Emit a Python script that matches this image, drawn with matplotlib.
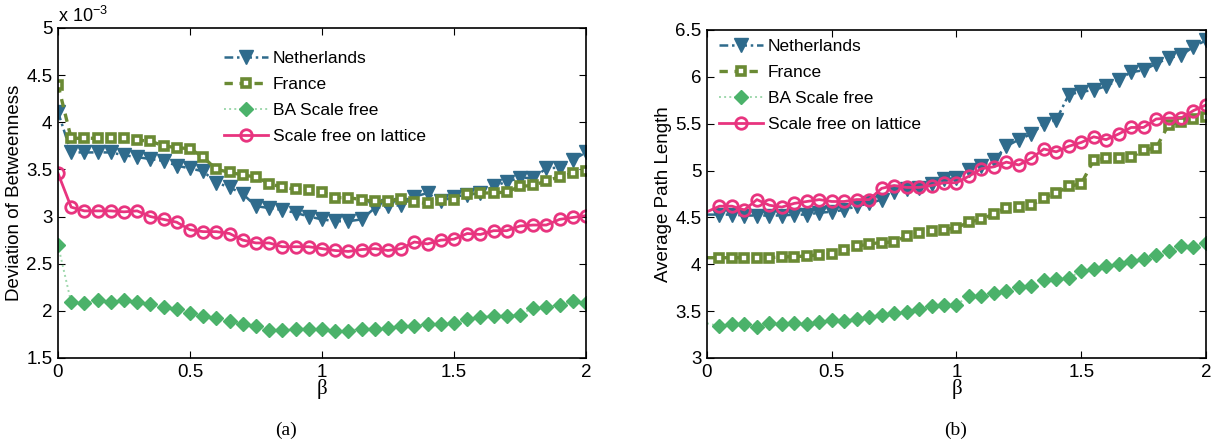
import numpy as np
import matplotlib
matplotlib.use("Agg")
import matplotlib.pyplot as plt

plt.rcParams["font.family"] = ["Liberation Sans", "DejaVu Sans"]
plt.rcParams["mathtext.default"] = "regular"

# beta 取值 0 ~ 2, 步长 0.05
beta = np.round(np.arange(0, 2.0001, 0.05), 2)

# (a) Deviation of Betweenness, 单位 1e-3
dev_netherlands = [4.11, 3.68, 3.68, 3.68, 3.68, 3.65, 3.63, 3.61, 3.59, 3.54, 3.51,
                   3.48, 3.36, 3.31, 3.24, 3.11, 3.09, 3.07, 3.04, 3.00, 2.97,
                   2.95, 2.95, 2.97, 3.09, 3.11, 3.12, 3.21, 3.25, 3.16, 3.21,
                   3.23, 3.25, 3.32, 3.37, 3.41, 3.41, 3.51, 3.52, 3.60, 3.68]
dev_france = [4.40, 3.83, 3.83, 3.83, 3.83, 3.83, 3.81, 3.80, 3.75, 3.73, 3.72,
              3.63, 3.50, 3.47, 3.44, 3.42, 3.35, 3.31, 3.29, 3.28, 3.26,
              3.20, 3.20, 3.18, 3.16, 3.16, 3.19, 3.15, 3.14, 3.18, 3.18,
              3.24, 3.25, 3.25, 3.26, 3.32, 3.33, 3.38, 3.42, 3.46, 3.48]
dev_ba = [2.70, 2.09, 2.08, 2.11, 2.09, 2.12, 2.09, 2.07, 2.04, 2.02, 1.98,
          1.95, 1.92, 1.89, 1.86, 1.84, 1.80, 1.80, 1.81, 1.81, 1.81,
          1.79, 1.79, 1.81, 1.81, 1.82, 1.84, 1.84, 1.86, 1.86, 1.87,
          1.91, 1.93, 1.95, 1.95, 1.96, 2.03, 2.04, 2.06, 2.10, 2.08]
dev_lattice = [3.46, 3.10, 3.06, 3.06, 3.06, 3.05, 3.06, 3.00, 2.97, 2.94, 2.86,
               2.84, 2.84, 2.82, 2.75, 2.72, 2.72, 2.68, 2.68, 2.68, 2.66,
               2.64, 2.63, 2.65, 2.66, 2.64, 2.66, 2.73, 2.71, 2.75, 2.76,
               2.82, 2.81, 2.85, 2.85, 2.90, 2.91, 2.91, 2.97, 2.99, 3.01]

# (b) Average Path Length
apl_netherlands = [4.53, 4.53, 4.53, 4.52, 4.52, 4.52, 4.52, 4.53, 4.53, 4.55, 4.56,
                   4.58, 4.62, 4.65, 4.69, 4.77, 4.80, 4.81, 4.86, 4.91, 4.92,
                   5.01, 5.05, 5.11, 5.26, 5.33, 5.39, 5.50, 5.54, 5.81, 5.84,
                   5.86, 5.90, 5.97, 6.05, 6.07, 6.14, 6.20, 6.23, 6.32, 6.39]
apl_france = [4.07, 4.07, 4.07, 4.07, 4.07, 4.07, 4.08, 4.08, 4.09, 4.10, 4.11,
              4.15, 4.19, 4.22, 4.23, 4.24, 4.30, 4.33, 4.35, 4.37, 4.39,
              4.45, 4.48, 4.54, 4.60, 4.61, 4.63, 4.71, 4.76, 4.83, 4.86,
              5.11, 5.13, 5.13, 5.14, 5.22, 5.24, 5.49, 5.52, 5.55, 5.57]
apl_ba = [3.37, 3.34, 3.36, 3.36, 3.33, 3.37, 3.36, 3.37, 3.36, 3.38, 3.41,
          3.40, 3.42, 3.44, 3.46, 3.48, 3.49, 3.52, 3.55, 3.57, 3.57,
          3.66, 3.66, 3.69, 3.71, 3.76, 3.77, 3.83, 3.84, 3.85, 3.93,
          3.95, 3.98, 4.00, 4.04, 4.06, 4.10, 4.14, 4.19, 4.18, 4.23]
apl_lattice = [4.56, 4.62, 4.62, 4.58, 4.69, 4.63, 4.61, 4.65, 4.67, 4.69, 4.67,
               4.67, 4.69, 4.69, 4.81, 4.84, 4.82, 4.82, 4.84, 4.87, 4.87,
               4.94, 5.02, 5.04, 5.09, 5.06, 5.13, 5.23, 5.20, 5.26, 5.30,
               5.36, 5.33, 5.39, 5.46, 5.46, 5.55, 5.56, 5.56, 5.64, 5.70]

labels = ["Netherlands", "France", "BA Scale free", "Scale free on lattice"]

c_nl = "#2f6b8c"
c_fr = "#6a8a34"
c_ba = "#4bb26a"
c_sf = "#e8347f"


def draw_series(ax, y_list, start):
    # start: 从第几个点开始画 marker
    nl, fr, ba, sf = y_list
    ax.plot(beta, nl, linestyle=(0, (3.5, 1.5, 1, 1.5)), color=c_nl, lw=1.8,
            marker="v", ms=10, mfc=c_nl, mec=c_nl,
            markevery=slice(start, None), label=labels[0])
    ax.plot(beta, fr, linestyle=(0, (2.5, 2)), color=c_fr, lw=2.4, marker="s", ms=5.5,
            mfc="white", mec=c_fr, mew=2.6, markevery=slice(start, None), label=labels[1])
    ax.plot(beta, ba, linestyle=":", color="#9fd8ad", lw=1.4, marker="D", ms=7,
            mfc=c_ba, mec=c_ba, markevery=slice(start, None), label=labels[2])
    ax.plot(beta, sf, linestyle="-", color=c_sf, lw=2.0, marker="o", ms=8.3,
            mfc="none", mec=c_sf, mew=2.0, markevery=slice(start, None), label=labels[3])


def style_axes(ax):
    ax.set_xlim(0, 2)
    ax.set_xticks([0, 0.5, 1, 1.5, 2])
    ax.set_xticklabels(["0", "0.5", "1", "1.5", "2"])
    ax.tick_params(direction="in", top=True, right=True, length=5, width=0.8,
                   labelsize=13.5)
    ax.tick_params(axis="x", pad=4)
    ax.tick_params(axis="y", pad=4)
    for s in ax.spines.values():
        s.set_linewidth(1.2)
    ax.set_xlabel("β", fontsize=15, family=["Liberation Serif"], labelpad=-1)


fig = plt.figure(figsize=(12.2, 4.43), dpi=100)

# (a)
ax1 = fig.add_axes([0.0475, 0.1919, 0.4328, 0.745])
draw_series(ax1, [dev_netherlands, dev_france, dev_ba, dev_lattice], 0)
style_axes(ax1)
ax1.set_ylim(1.5, 5)
ax1.set_yticks([1.5, 2, 2.5, 3, 3.5, 4, 4.5, 5])
ax1.set_yticklabels(["1.5", "2", "2.5", "3", "3.5", "4", "4.5", "5"])
ax1.set_ylabel("Deviation of Betweenness", fontsize=13.5, labelpad=2)
ax1.text(0.0, 1.005, r"x 10$^{-3}$", transform=ax1.transAxes, fontsize=13,
         ha="left", va="bottom")
ax1.legend(loc="upper left", bbox_to_anchor=(0.315, 0.93), frameon=False,
           fontsize=12.5, handlelength=2.5, handletextpad=0.3, labelspacing=0.62,
           borderpad=0, borderaxespad=0)

# (b)
ax2 = fig.add_axes([0.5795, 0.1919, 0.409, 0.7404])
draw_series(ax2, [apl_netherlands, apl_france, apl_ba, apl_lattice], 1)
style_axes(ax2)
ax2.set_ylim(3, 6.5)
ax2.set_yticks([3, 3.5, 4, 4.5, 5, 5.5, 6, 6.5])
ax2.set_yticklabels(["3", "3.5", "4", "4.5", "5", "5.5", "6", "6.5"])
ax2.set_ylabel("Average Path Length", fontsize=13.5, labelpad=2)
ax2.legend(loc="upper left", bbox_to_anchor=(0.025, 0.973), frameon=False,
           fontsize=12.5, handlelength=2.5, handletextpad=0.3, labelspacing=0.62,
           borderpad=0, borderaxespad=0)

fig.text(286 / 1220, 1 - 430 / 443, "(a)", ha="center", va="center",
         fontsize=14, family=["Liberation Serif"])
fig.text(956 / 1220, 1 - 430 / 443, "(b)", ha="center", va="center",
         fontsize=14, family=["Liberation Serif"])

fig.savefig("out.png", dpi=100)
plt.close(fig)
